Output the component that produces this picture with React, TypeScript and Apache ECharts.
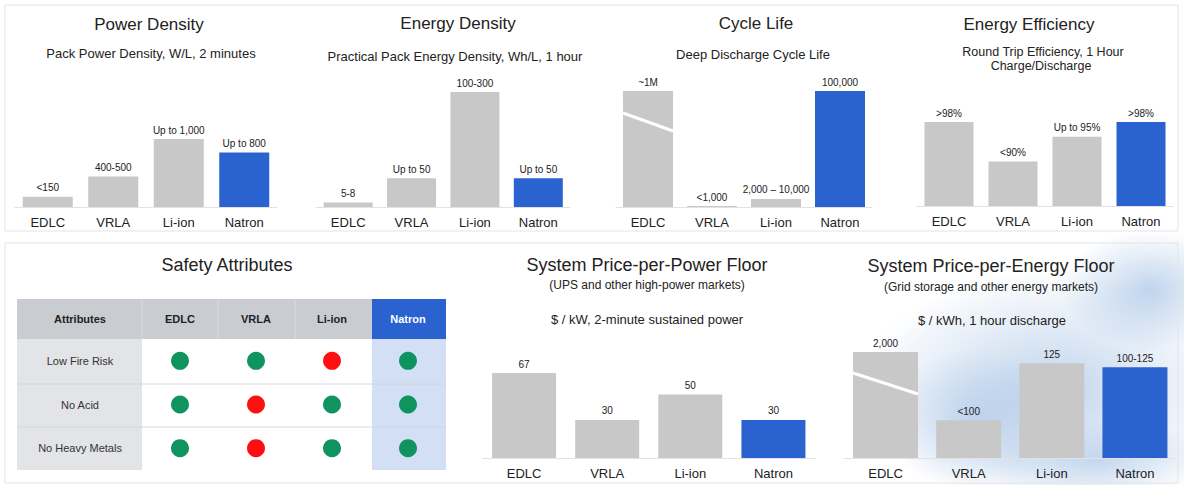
import React, { useEffect, useRef } from "react";
import * as echarts from "echarts";

const categories = ["EDLC", "VRLA", "Li-ion", "Natron"];

const powerDensity = [150, 450, 1000, 800];
const powerDensityLabels = ["<150", "400-500", "Up to 1,000", "Up to 800"];

const energyDensity = [8, 50, 200, 50];
const energyDensityLabels = ["5-8", "Up to 50", "100-300", "Up to 50"];

const cycleLife = [100000, 800, 7000, 100000];
const cycleLifeLabels = ["~1M", "<1,000", "2,000 – 10,000", "100,000"];

const efficiency = [98, 90, 95, 98];
const efficiencyLabels = [">98%", "<90%", "Up to 95%", ">98%"];

const powerPrice = [67, 30, 50, 30];
const powerPriceLabels = ["67", "30", "50", "30"];

const energyPrice = [140, 50, 125, 120];
const energyPriceLabels = ["2,000", "<100", "125", "100-125"];

const safetyRows = ["Low Fire Risk", "No Acid", "No Heavy Metals"];
const safetyEDLC = [1, 1, 1];
const safetyVRLA = [1, 0, 0];
const safetyLiIon = [0, 1, 1];
const safetyNatron = [1, 1, 1];

const BLUE = "#2a62cf";
const GRAY = "#c8c8c8";
const GREEN = "#0f9460";
const RED = "#ff1010";
const TEXT = "#222";
const FONT = "'Liberation Sans', Arial, sans-serif";

function txt(x: number, y: number, text: string, size: number, weight = "normal", fill = TEXT) {
  return {
    type: "text",
    x,
    y,
    z: 50,
    style: { text, fill, fontSize: size, fontWeight: weight, fontFamily: FONT, align: "center", verticalAlign: "middle" },
  };
}

function blob(cx: number, cy: number, rx: number, ry: number, a: number) {
  return {
    type: "ellipse",
    z: -10,
    shape: { cx, cy, rx, ry },
    style: {
      fill: {
        type: "radial", x: 0.5, y: 0.5, r: 0.5,
        colorStops: [
          { offset: 0, color: `rgba(130,170,218,${a})` },
          { offset: 1, color: "rgba(130,170,218,0)" },
        ],
      },
    },
  };
}

export default function App() {
  const ref = useRef<HTMLDivElement>(null);
  useEffect(() => {
    if (!ref.current) return;
    const chart = echarts.init(ref.current, undefined, { renderer: "svg" });

    const grids = [
      { left: 15, top: 139, width: 262, height: 68 },
      { left: 316.5, top: 92, width: 253.5, height: 115 },
      { left: 616, top: 91, width: 256, height: 116 },
      { left: 917, top: 122, width: 256, height: 84 },
      { left: 142, top: 339, width: 304, height: 131 },
      { left: 482.5, top: 373, width: 332.5, height: 85 },
      { left: 844, top: 352, width: 332.5, height: 106 },
    ];

    const yRanges: [number, number][] = [
      [0, 1000],
      [0, 200],
      [0, 100000],
      [81, 98],
    ];

    const barXAxis = (gi: number) => ({
      type: "category",
      gridIndex: gi,
      data: categories,
      axisTick: { show: false },
      axisLine: { show: true, lineStyle: { color: "#e2e2e2" } },
      axisLabel: { fontSize: 13, color: TEXT, margin: 9, fontFamily: FONT },
    });

    const barSeries = (gi: number, values: number[], labels: string[], barWidth: number) => ({
      type: "bar",
      xAxisIndex: gi,
      yAxisIndex: gi,
      barWidth,
      data: values.map((v, i) => ({ value: v, itemStyle: { color: categories[i] === "Natron" ? BLUE : GRAY } })),
      label: {
        show: true,
        position: "top",
        distance: 4,
        fontSize: 10,
        color: TEXT,
        fontFamily: FONT,
        formatter: (p: any) => labels[p.dataIndex],
      },
    });

    const safetyCols = [safetyEDLC, safetyVRLA, safetyLiIon, safetyNatron];
    const scatterData: any[] = [];
    safetyCols.forEach((col, c) => {
      col.forEach((ok, r) => {
        scatterData.push({ value: [categories[c], safetyRows[r]], itemStyle: { color: ok ? GREEN : RED, opacity: 1 } });
      });
    });

    const option: any = {
      animation: false,
      backgroundColor: "#ffffff",
      textStyle: { fontFamily: FONT },
      grid: grids,
      xAxis: [
        barXAxis(0),
        barXAxis(1),
        barXAxis(2),
        barXAxis(3),
        {
          type: "category",
          gridIndex: 4,
          position: "top",
          data: categories,
          axisTick: { show: false },
          axisLine: { show: false },
          axisLabel: {
            fontSize: 11,
            fontWeight: "bold",
            color: TEXT,
            margin: 20,
            verticalAlign: "middle",
            formatter: (v: string) => (v === "Natron" ? `{n|${v}}` : v),
            rich: { n: { color: "#ffffff", fontSize: 11, fontFamily: FONT } },
          },
        },
        barXAxis(5),
        barXAxis(6),
      ],
      yAxis: [
        ...yRanges.map((r, i) => ({ type: "value", gridIndex: i, min: r[0], max: r[1], show: false })),
        {
          type: "category",
          gridIndex: 4,
          inverse: true,
          data: safetyRows,
          axisTick: { show: false },
          axisLine: { show: false },
          axisLabel: { align: "center", margin: 62, fontSize: 11, color: "#333", fontFamily: FONT },
        },
        { type: "value", gridIndex: 5, min: 0, max: 67, show: false },
        { type: "value", gridIndex: 6, min: 0, max: 140, show: false },
      ],
      series: [
        barSeries(0, powerDensity, powerDensityLabels, 50),
        barSeries(1, energyDensity, energyDensityLabels, 49),
        barSeries(2, cycleLife, cycleLifeLabels, 50),
        barSeries(3, efficiency, efficiencyLabels, 49),
        {
          type: "scatter",
          xAxisIndex: 4,
          yAxisIndex: 4,
          symbolSize: 18,
          z: 10,
          itemStyle: { opacity: 1 },
          data: scatterData,
        },
        barSeries(5, powerPrice, powerPriceLabels, 64),
        barSeries(6, energyPrice, energyPriceLabels, 65),
      ],
      graphic: [
        // background texture hint (bottom right)
        blob(1050, 390, 190, 120, 0.5),
        blob(1150, 290, 90, 60, 0.5),
        blob(975, 420, 90, 70, 0.35),
        blob(1100, 460, 120, 40, 0.35),
        // panel frames
        { type: "rect", z: -5, shape: { x: 5, y: 5, width: 1173, height: 226 }, style: { fill: "none", stroke: "#e4e4e4", lineWidth: 1 } },
        { type: "rect", z: -5, shape: { x: 5, y: 243, width: 1173, height: 240 }, style: { fill: "none", stroke: "#e4e4e4", lineWidth: 1 } },
        // table backgrounds
        { type: "rect", z: -2, shape: { x: 17, y: 299, width: 355, height: 40 }, style: { fill: "#c9ccd0" } },
        { type: "rect", z: -2, shape: { x: 372, y: 299, width: 74, height: 40 }, style: { fill: BLUE } },
        { type: "rect", z: -2, shape: { x: 17, y: 339, width: 125, height: 131 }, style: { fill: "#e2e4e7" } },
        { type: "rect", z: -2, shape: { x: 372, y: 339, width: 74, height: 131 }, style: { fill: "#d3dff4" } },
        { type: "line", z: -1, shape: { x1: 142, y1: 299, x2: 142, y2: 339 }, style: { stroke: "#d8dadd", lineWidth: 1 } },
        { type: "line", z: -1, shape: { x1: 218, y1: 299, x2: 218, y2: 339 }, style: { stroke: "#d8dadd", lineWidth: 1 } },
        { type: "line", z: -1, shape: { x1: 295, y1: 299, x2: 295, y2: 339 }, style: { stroke: "#d8dadd", lineWidth: 1 } },
        { type: "line", z: -1, shape: { x1: 17, y1: 384, x2: 446, y2: 384 }, style: { stroke: "#d4d6da", lineWidth: 1 } },
        { type: "line", z: -1, shape: { x1: 17, y1: 427, x2: 446, y2: 427 }, style: { stroke: "#d4d6da", lineWidth: 1 } },
        txt(80, 319, "Attributes", 11, "bold"),
        // axis-break marks on clipped bars
        { type: "line", z: 100, shape: { x1: 623, y1: 113, x2: 673, y2: 131 }, style: { stroke: "#ffffff", lineWidth: 3 } },
        { type: "line", z: 100, shape: { x1: 853, y1: 373, x2: 918, y2: 394 }, style: { stroke: "#ffffff", lineWidth: 3 } },
        // titles
        txt(149, 24, "Power Density", 17),
        txt(151, 53, "Pack Power Density, W/L, 2 minutes", 13),
        txt(458, 23, "Energy Density", 17),
        txt(455, 56, "Practical Pack Energy Density, Wh/L, 1 hour", 13),
        txt(756, 23, "Cycle Life", 17),
        txt(753, 54, "Deep Discharge Cycle Life", 13),
        txt(1029, 24, "Energy Efficiency", 17),
        txt(1043, 52, "Round Trip Efficiency, 1 Hour", 12.5),
        txt(1041, 66, "Charge/Discharge", 12.5),
        txt(227, 265, "Safety Attributes", 18),
        txt(647, 265, "System Price-per-Power Floor", 18),
        txt(647, 285, "(UPS and other high-power markets)", 12),
        txt(647, 319, "$ / kW, 2-minute sustained power", 13),
        txt(991, 266, "System Price-per-Energy Floor", 18),
        txt(991, 287, "(Grid storage and other energy markets)", 12),
        txt(992, 320, "$ / kWh, 1 hour discharge", 13),
      ],
    };

    chart.setOption(option);
    return () => chart.dispose();
  }, []);

  return <div ref={ref} style={{ position: "absolute", left: 0, top: 0, width: 1184, height: 485 }} />;
}
